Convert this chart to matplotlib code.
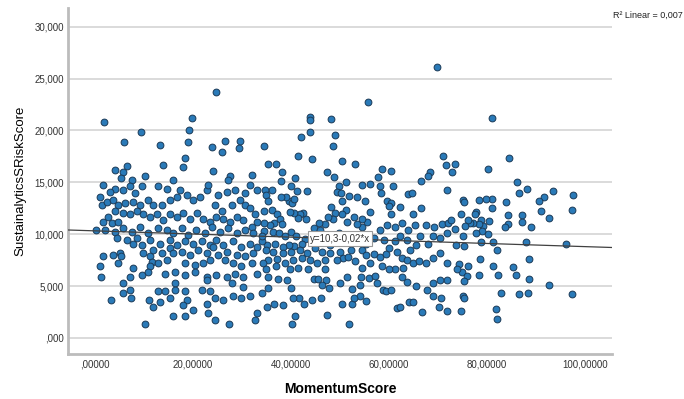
import matplotlib
matplotlib.use("Agg")
import matplotlib.pyplot as plt
import numpy as np

plt.rcParams['font.family'] = ['Liberation Sans', 'DejaVu Sans']

# MomentumScore vs SustainalyticsSRiskScore
momentum_score = [
    81.0, 84.4, 73.4, 72.9, 80.3, 86.1, 86.5, 88.2, 93.4, 97.6,
    91.7, 90.7, 91.1, 97.4, 92.6, 87.1, 87.1, 88.9, 83.9, 84.2,
    84.3, 83.7, 81.0, 79.7, 78.3, 75.0, 75.4, 81.0, 77.8, 77.6,
    74.6, 80.5, 78.8, 79.2, 78.4, 77.2, 76.5, 76.1, 75.6, 80.1,
    78.9, 77.8, 75.1, 73.4, 75.2, 73.7, 78.8, 81.2, 82.0, 88.0,
    96.1, 88.6, 78.6, 74.3, 76.1, 81.2, 85.4, 74.9, 75.9, 75.4,
    78.4, 82.2, 86.0, 88.5, 92.6, 82.8, 86.6, 88.4, 97.3, 75.1,
    75.2, 74.6, 81.9, 82.0,
    69.7, 55.8, 43.8, 43.8, 48.1, 43.9, 42.1, 48.9, 48.6, 34.5,
    41.5, 44.3, 50.5, 53.0, 35.3, 36.9, 71.1, 71.7, 58.6, 60.4,
    57.8, 40.9, 38.2, 47.3, 48.8, 68.4, 68.0, 66.6, 71.8, 60.9,
    58.2, 56.1, 54.5, 51.2, 49.7, 49.4, 50.3, 50.5, 53.5, 55.1,
    51.9, 59.5, 60.4, 60.1, 58.4, 63.9, 64.7, 62.3, 64.9, 66.6,
    67.6, 69.2, 70.9, 72.1, 72.7, 60.5, 56.1, 55.6, 54.4, 54.5,
    53.5, 52.8, 51.2, 51.4, 50.5, 48.9, 48.2, 48.6, 47.5, 46.9,
    45.7, 44.6, 45.9, 43.0, 42.5, 41.9, 41.4, 40.7, 39.7, 39.6,
    40.2, 40.6, 39.0, 38.0, 40.1, 41.2, 43.3, 38.0, 36.1, 34.7,
    34.9, 35.4, 36.1, 34.5, 37.2, 37.8, 36.6, 38.1, 35.7, 34.5,
    34.5, 36.4, 37.6, 38.8, 40.0, 41.0, 42.9, 42.2, 40.7, 39.6,
    38.3, 36.7, 35.2, 34.0, 34.9, 36.4, 38.4, 40.1, 41.8, 43.2,
    43.9, 42.2, 40.5, 38.8, 37.1, 35.4, 34.2, 35.0, 36.9, 39.8,
    41.5, 43.5, 35.4, 37.4, 39.1, 44.6, 45.6, 47.1, 47.8, 46.3,
    35.4, 40.1, 41.7, 40.5, 36.6, 35.2, 38.4, 42.7, 44.2, 46.1,
    47.3, 50.5, 52.4, 51.8, 40.3, 40.8, 54.1, 55.3, 52.9, 49.9,
    51.5, 52.4, 54.1, 54.3, 56.0, 57.1, 57.5, 58.8, 59.4, 60.5,
    61.6, 62.2, 64.1, 64.8, 66.8, 70.1, 70.7, 71.9, 69.0, 67.7,
    65.6, 63.6, 62.6, 62.9, 61.2, 59.9, 58.5, 56.1, 54.4, 53.1,
    50.7, 49.3, 48.0, 50.0, 51.7, 52.2, 54.4, 55.4, 57.0, 58.2,
    59.4, 60.1, 61.6, 62.6, 63.6, 64.8, 66.2, 67.6, 69.0, 70.4,
    71.8, 73.8, 71.8, 70.4, 69.0, 64.3, 65.6, 66.3, 68.0, 69.0,
    70.4, 71.8, 63.6, 62.2, 61.2, 59.0, 56.9, 58.2, 59.5, 61.2,
    62.6, 63.9, 65.3, 52.7, 54.1, 55.4, 51.0, 49.7, 48.3, 48.0,
    46.9, 45.6, 44.9, 46.3, 46.9, 45.4, 46.9,
    24.8, 1.9, 19.9, 9.4, 19.2, 5.9, 13.3, 19.0, 23.9, 26.6,
    26.0, 29.5, 29.4, 18.4, 17.9, 13.9, 4.1, 6.5, 24.1, 10.2,
    5.8, 5.4, 7.5, 1.7, 4.1, 3.1, 5.8, 7.1, 8.2, 9.5,
    1.0, 1.4, 2.4, 3.7, 4.8, 6.1, 7.8, 9.2, 10.9, 11.9,
    12.9, 14.6, 16.0, 17.3, 16.7, 15.3, 13.6, 18.7, 20.1, 21.4,
    22.8, 25.2, 26.9, 27.6, 27.2, 32.0, 31.6, 33.0, 28.6, 29.6,
    30.6, 23.1, 24.5, 25.9, 27.9, 30.6, 31.6, 32.7, 33.0, 32.0,
    30.3, 28.9, 27.6, 26.2, 24.8, 23.5, 22.1, 20.8, 19.4, 18.0,
    16.7, 15.3, 13.9, 12.6, 11.2, 9.9, 8.5, 7.1, 5.8, 4.1,
    2.7, 1.7, 3.4, 4.8, 0.3, 2.0, 4.1, 5.8, 7.5, 9.2,
    10.9, 12.9, 14.6, 16.0, 17.7, 19.0, 20.7, 22.4, 23.8, 25.5,
    27.2, 28.9, 30.6, 32.3, 34.0, 4.4, 6.5, 8.5, 7.8, 9.5,
    11.2, 13.3, 15.3, 16.7, 18.4, 20.1, 21.8, 23.5, 24.8, 26.2,
    28.2, 29.9, 31.6, 33.0, 1.7, 3.7, 5.1, 5.4, 9.9, 11.2,
    11.9, 13.6, 15.3, 16.0, 17.7, 19.4, 21.1, 22.8, 24.1, 25.2,
    26.9, 28.9, 30.6, 32.3, 1.0, 4.8, 7.8, 11.6, 11.2, 12.9,
    14.6, 18.4, 20.4, 22.1, 23.5, 26.5, 28.2, 29.9, 32.0, 7.1,
    9.5, 10.9, 14.3, 16.3, 18.4, 20.4, 22.8, 24.8, 26.9, 28.6,
    30.3, 33.0, 5.8, 5.8, 7.1, 7.3, 3.2, 11.0, 11.8, 12.9,
    14.3, 13.3, 16.3, 16.3, 15.3, 18.4, 18.7, 18.0, 20.1, 22.8,
    21.8, 23.5, 24.5, 22.8, 23.1, 24.5, 16.0, 18.4, 10.2, 27.4,
    26.2, 28.2, 29.9, 31.6, 27.9, 30.3, 32.7, 33.0, 34.0, 1.2,
]
risk_score = [
    21.2, 17.3, 16.8, 16.0, 16.3, 15.0, 14.0, 14.4, 14.2, 13.8,
    13.6, 13.2, 12.2, 12.3, 11.6, 11.8, 11.2, 10.7, 13.1, 11.8,
    11.0, 10.7, 13.4, 13.4, 13.3, 13.3, 13.1, 12.5, 12.1, 11.9,
    11.9, 11.3, 11.4, 10.8, 11.0, 11.1, 11.1, 11.4, 10.8, 10.0,
    10.3, 10.1, 9.8, 10.5, 8.9, 9.0, 9.2, 9.2, 8.5, 9.2,
    9.1, 7.6, 7.6, 7.1, 6.9, 6.9, 6.8, 6.4, 6.0, 5.5,
    6.1, 6.1, 6.1, 5.7, 5.1, 4.3, 4.2, 4.3, 4.2, 4.0,
    3.8, 2.6, 2.8, 1.8,
    26.1, 22.7, 21.3, 21.0, 21.1, 19.8, 19.4, 19.6, 18.5, 18.5,
    17.5, 17.2, 17.1, 16.8, 16.8, 16.8, 17.5, 16.7, 16.3, 16.1,
    15.5, 15.4, 16.0, 16.0, 15.5, 16.0, 15.6, 15.1, 14.3, 14.6,
    14.6, 14.8, 14.7, 15.0, 14.6, 14.1, 14.0, 13.2, 13.6, 13.2,
    13.7, 13.2, 13.0, 12.7, 14.0, 13.9, 14.0, 12.6, 11.9, 12.5,
    10.9, 10.7, 11.0, 11.1, 11.4, 11.9, 12.1, 11.2, 11.5, 10.7,
    11.0, 11.7, 12.3, 11.2, 11.9, 12.0, 12.6, 11.5, 11.7, 11.0,
    11.1, 10.6, 10.4, 11.5, 12.0, 11.9, 11.6, 12.0, 12.1, 13.2,
    13.0, 13.4, 13.6, 13.6, 14.6, 14.2, 14.2, 15.1, 14.3, 14.3,
    13.8, 13.2, 12.3, 12.2, 11.9, 11.5, 11.1, 11.0, 10.9, 11.1,
    10.3, 10.2, 10.1, 9.8, 10.2, 9.8, 9.5, 9.1, 8.9, 9.0,
    8.8, 9.1, 9.0, 9.3, 8.5, 8.3, 8.2, 8.3, 8.5, 8.2,
    7.5, 7.7, 7.5, 7.2, 7.6, 7.5, 7.2, 6.6, 6.9, 6.6,
    6.7, 6.6, 5.9, 5.7, 5.6, 5.7, 5.7, 5.6, 4.8, 5.1,
    4.8, 4.8, 3.8, 3.8, 3.3, 3.0, 3.2, 3.3, 3.7, 3.8,
    2.2, 3.3, 3.3, 1.35, 1.35, 2.1, 4.0, 3.6, 3.8, 5.3,
    5.9, 4.7, 5.1, 5.85, 5.75, 6.0, 5.3, 4.6, 4.5, 4.6,
    2.9, 3.0, 3.5, 3.5, 2.5, 3.0, 3.8, 2.6, 4.0, 4.6,
    5.0, 5.4, 5.9, 6.7, 6.6, 6.6, 6.9, 7.2, 6.7, 7.4,
    7.7, 7.5, 8.2, 8.3, 7.8, 8.5, 8.5, 8.0, 8.1, 7.8,
    8.1, 8.65, 8.3, 7.7, 7.5, 7.2, 7.4, 7.2, 7.7, 8.2,
    7.2, 6.6, 5.6, 5.6, 5.3, 8.5, 9.0, 9.8, 9.1, 9.8,
    9.6, 10.1, 9.45, 9.8, 9.3, 9.45, 9.6, 10.4, 10.9, 10.7,
    11.1, 10.4, 10.9, 9.45, 9.8, 9.1, 9.8, 10.1, 9.8, 9.0,
    9.2, 9.3, 8.65, 8.3, 7.5, 7.2, 6.6,
    23.75, 20.8, 21.2, 19.8, 20.0, 18.9, 18.6, 18.9, 18.4, 19.0,
    17.9, 19.0, 18.3, 17.3, 16.5, 16.7, 16.2, 16.6, 16.1, 15.6,
    16.0, 15.4, 15.2, 14.75, 14.4, 14.1, 14.3, 14.6, 13.95, 14.6,
    13.6, 12.8, 13.1, 13.3, 12.8, 13.0, 13.1, 12.8, 13.3, 12.8,
    14.6, 14.4, 15.2, 14.3, 13.6, 13.3, 12.8, 13.8, 13.3, 13.6,
    14.3, 13.8, 14.1, 15.6, 15.2, 15.7, 14.75, 14.3, 14.3, 13.3,
    13.95, 14.75, 12.8, 12.2, 12.8, 12.8, 12.5, 11.9, 11.2, 10.7,
    11.4, 11.7, 11.2, 11.5, 11.7, 11.2, 11.5, 12.0, 11.5, 12.0,
    11.7, 11.9, 11.4, 11.9, 11.7, 11.9, 12.2, 11.9, 12.0, 12.2,
    11.7, 11.2, 11.1, 11.2, 10.4, 10.4, 10.25, 10.6, 10.25, 10.7,
    10.1, 10.6, 10.4, 10.1, 10.6, 9.9, 10.4, 10.1, 10.7, 10.25,
    10.6, 10.1, 10.4, 10.1, 9.8, 9.6, 9.45, 9.6, 9.1, 9.0,
    9.45, 9.1, 9.45, 9.0, 9.3, 9.1, 9.3, 9.0, 9.45, 9.0,
    9.3, 8.8, 9.1, 8.8, 7.85, 8.0, 8.2, 7.85, 8.2, 7.85,
    8.5, 8.2, 8.65, 8.2, 8.3, 8.0, 8.5, 8.2, 8.8, 8.0,
    8.3, 8.0, 7.85, 8.2, 6.9, 7.2, 6.7, 7.35, 6.9, 7.2,
    7.5, 7.2, 7.0, 7.2, 7.5, 7.5, 7.2, 6.9, 7.2, 5.9,
    6.1, 6.4, 6.2, 6.4, 6.1, 6.4, 5.9, 6.1, 5.9, 6.2,
    5.9, 6.2, 5.3, 4.3, 4.6, 3.8, 3.7, 3.7, 3.0, 4.5,
    4.5, 3.5, 5.3, 4.6, 3.8, 4.5, 3.7, 3.2, 2.7, 5.6,
    4.6, 4.5, 3.8, 3.3, 2.45, 1.7, 2.15, 2.15, 1.3, 1.35,
    3.7, 4.0, 3.8, 4.0, 5.3, 4.9, 1.7, 2.4, 4.3, 5.9,
]

# fitted linear trend
intercept = 10.32
slope = -0.0152
r_squared = 0.007

x_ticks = [0, 20, 40, 60, 80, 100]
y_ticks = [0, 5, 10, 15, 20, 25, 30]


def comma_label(v, decimals):
    s = f"{v:.{decimals}f}".replace('.', ',')
    if s.startswith('0,'):
        s = s[1:]
    return s


fig = plt.figure(figsize=(6.84, 3.99), dpi=100)
ax = fig.add_axes([68 / 684, 1 - 354 / 399, (612 - 68) / 684, (354 - 8) / 399])

xmin, xmax = -5.5, 105.5
ax.set_xlim(xmin, xmax)
ax.set_ylim(-1.55, 31.8)

ax.set_yticks(y_ticks)
ax.set_yticklabels([comma_label(v, 3) for v in y_ticks])
ax.set_xticks(x_ticks)
ax.set_xticklabels([comma_label(v, 5) for v in x_ticks])
ax.tick_params(length=0, labelsize=7, colors='#333333')
ax.tick_params(axis='x', pad=4)
ax.tick_params(axis='y', pad=3)

ax.grid(axis='y', color='#d4d4d4', linewidth=1.2)
ax.set_axisbelow(True)
for side in ['top', 'right']:
    ax.spines[side].set_visible(False)
for side in ['left', 'bottom']:
    ax.spines[side].set_color('#bcbcbc')
    ax.spines[side].set_linewidth(2)

ax.scatter(momentum_score, risk_score, s=24, facecolor='#2a7ab8',
           edgecolor='#1b3a57', linewidth=0.7, zorder=3)

xs = np.array([xmin, xmax])
ax.plot(xs, intercept + slope * xs, color='#404040', linewidth=0.9, zorder=4)

sign = '-' if slope < 0 else '+'
eq = f"y={intercept:.1f}{sign}{abs(slope):.2f}*x".replace('.', ',')
xm = 50
ax.text(xm, intercept + slope * xm, eq, fontsize=7, ha='center', va='center',
        color='#333333', zorder=5,
        bbox=dict(boxstyle='square,pad=0.25', facecolor='white',
                  edgecolor='#9a9a9a', linewidth=0.8))

fig.text(613 / 684, 1 - 15 / 399, f"R² Linear = {r_squared:.3f}".replace('.', ','),
         fontsize=6.5, ha='left', va='center', color='#222222')

ax.set_xlabel('MomentumScore', fontsize=10, fontweight='bold', labelpad=9)
ax.set_ylabel('SustainalyticsSRiskScore', fontsize=9.5, labelpad=6)

fig.savefig('out.png', dpi=100)
plt.close(fig)
